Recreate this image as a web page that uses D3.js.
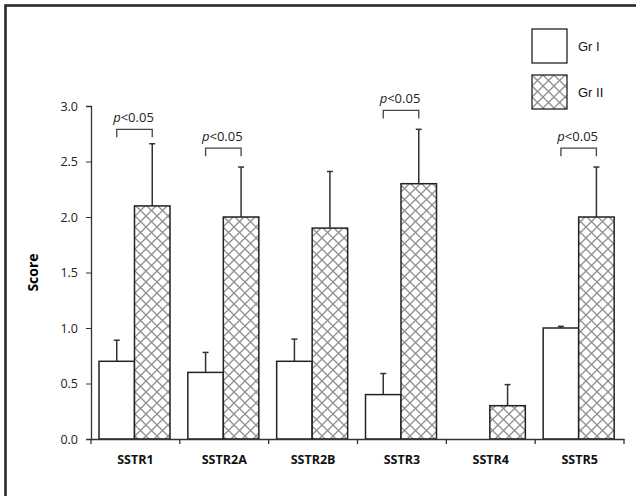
<!DOCTYPE html>
<html>
<head>
<meta charset="utf-8">
<script src="https://cdn.jsdelivr.net/npm/d3@7"></script>
<style>
  body { margin: 0; background: #fff; }
  svg { display: block; }
  .tick text { font-family: "Open Sans", "Noto Sans", sans-serif; font-size: 12.5px; fill: #222; }
</style>
</head>
<body>
<script>
var categories = ["SSTR1", "SSTR2A", "SSTR2B", "SSTR3", "SSTR4", "SSTR5"];
var groups = ["Gr I", "Gr II"];
var grI = [0.7, 0.6, 0.7, 0.4, 0, 1.0];
var grIErr = [0.19, 0.18, 0.2, 0.19, 0, 0.015];
var grII = [2.1, 2.0, 1.9, 2.3, 0.3, 2.0];
var grIIErr = [0.56, 0.45, 0.51, 0.49, 0.19, 0.45];
var yTicks = [0, 0.5, 1.0, 1.5, 2.0, 2.5, 3.0];
// significance brackets: category and height of bracket
var sigCats = ["SSTR1", "SSTR2A", "SSTR3", "SSTR5"];
var sigLevels = [2.79, 2.62, 2.96, 2.62];

var W = 636, H = 496;
var margin = {top: 106, left: 91, right: 12, bottom: 57};
var w = W - margin.left - margin.right,
    h = H - margin.top - margin.bottom;

var svg = d3.select("body").append("svg")
    .attr("width", W)
    .attr("height", H);

var P = 11;
var defs = svg.append("defs");
var pat = defs.append("pattern")
    .attr("id", "hatch")
    .attr("patternUnits", "userSpaceOnUse")
    .attr("width", P)
    .attr("height", P);
pat.append("rect").attr("width", P).attr("height", P).attr("fill", "#fff");
pat.append("path")
    .attr("d", "M0,0L" + P + "," + P + "M" + P + ",0L0," + P)
    .attr("stroke", "#8f8f8f")
    .attr("stroke-width", 1.3);

// outer frame (open on the right and bottom, as in the source)
svg.append("rect")
    .attr("x", 5.5).attr("y", 5.5)
    .attr("width", W + 20).attr("height", H + 20)
    .attr("fill", "none")
    .attr("stroke", "#2a2a2a")
    .attr("stroke-width", 2.6);

var g = svg.append("g")
    .attr("transform", "translate(" + margin.left + "," + margin.top + ")");

var x0 = d3.scaleBand().domain(categories).range([0, w]);
var x1 = d3.scaleBand().domain(groups).range([8, 79]);
var y = d3.scaleLinear().domain([0, 3]).range([h, 0]);

var rows = categories.map(function(c, i) {
  return [
    {cat: c, grp: "Gr I", v: grI[i], e: grIErr[i]},
    {cat: c, grp: "Gr II", v: grII[i], e: grIIErr[i]}
  ];
});
var flat = d3.merge(rows);

// error bars (behind bars)
var eb = g.selectAll(".err")
    .data(flat.filter(function(d) { return d.e > 0; }))
  .enter().append("g").attr("class", "err");
eb.append("line")
    .attr("x1", function(d) { return x0(d.cat) + x1(d.grp) + x1.bandwidth() / 2; })
    .attr("x2", function(d) { return x0(d.cat) + x1(d.grp) + x1.bandwidth() / 2; })
    .attr("y1", function(d) { return y(d.v); })
    .attr("y2", function(d) { return y(d.v + d.e); })
    .attr("stroke", "#333").attr("stroke-width", 1.5);
eb.append("line")
    .attr("x1", function(d) { return x0(d.cat) + x1(d.grp) + x1.bandwidth() / 2 - 3; })
    .attr("x2", function(d) { return x0(d.cat) + x1(d.grp) + x1.bandwidth() / 2 + 3; })
    .attr("y1", function(d) { return y(d.v + d.e); })
    .attr("y2", function(d) { return y(d.v + d.e); })
    .attr("stroke", "#333").attr("stroke-width", 1.5);

g.selectAll(".bar")
    .data(flat)
  .enter().append("rect")
    .attr("class", "bar")
    .attr("x", function(d) { return x0(d.cat) + x1(d.grp); })
    .attr("width", x1.bandwidth())
    .attr("y", function(d) { return y(d.v); })
    .attr("height", function(d) { return h - y(d.v); })
    .attr("fill", function(d) { return d.grp == "Gr I" ? "#fff" : "url(#hatch)"; })
    .attr("stroke", "#222")
    .attr("stroke-width", 1.5);

// axes
var yAxis = d3.axisLeft(y).tickValues(yTicks).tickFormat(d3.format(".1f")).tickSize(5).tickPadding(8);
var ya = g.append("g").call(yAxis);
ya.select(".domain").attr("stroke", "#333").attr("stroke-width", 1.3);
ya.selectAll(".tick line").attr("stroke", "#333");

var xAxis = d3.axisBottom(x0).tickSize(0).tickPadding(16);
var xa = g.append("g")
    .attr("transform", "translate(0," + h + ")")
    .call(xAxis);
xa.select(".domain").attr("stroke", "#333").attr("stroke-width", 1.3);
xa.selectAll(".tick text")
    .style("font-weight", "bold")
    .style("font-size", "12.5px")
    .style("fill", "#111");
// category separator ticks
xa.selectAll(".sep")
    .data(categories.concat(["end"]))
  .enter().append("line")
    .attr("class", "sep")
    .attr("x1", function(d) { return d == "end" ? w : x0(d); })
    .attr("x2", function(d) { return d == "end" ? w : x0(d); })
    .attr("y1", 0).attr("y2", 5)
    .attr("stroke", "#333").attr("stroke-width", 1.3);

g.append("text")
    .attr("transform", "rotate(-90)")
    .attr("x", -(y(1.5)))
    .attr("y", -53)
    .attr("text-anchor", "middle")
    .style("font-family", "'Open Sans', 'Noto Sans', sans-serif")
    .style("font-weight", "bold")
    .style("font-size", "14px")
    .text("Score");

// significance brackets
var sig = g.selectAll(".sig")
    .data(sigCats.map(function(c, i) { return {cat: c, lvl: sigLevels[i]}; }))
  .enter().append("g").attr("class", "sig");
sig.append("path")
    .attr("d", function(d) {
      var xa = x0(d.cat) + x1("Gr I") + x1.bandwidth() / 2,
          xb = x0(d.cat) + x1("Gr II") + x1.bandwidth() / 2,
          yy = y(d.lvl);
      return "M" + xa + "," + (yy + 8) + "V" + yy + "H" + xb + "V" + (yy + 8);
    })
    .attr("fill", "none")
    .attr("stroke", "#444")
    .attr("stroke-width", 1.3);
var st = sig.append("text")
    .attr("x", function(d) { return x0(d.cat) + x1("Gr II") - 1; })
    .attr("y", function(d) { return y(d.lvl) - 7; })
    .attr("text-anchor", "middle")
    .style("font-family", "'Open Sans', 'Noto Sans', sans-serif")
    .style("font-size", "13px")
    .style("fill", "#222");
st.append("tspan").style("font-style", "italic").text("p");
st.append("tspan").text("<0.05");

// legend
var leg = svg.selectAll(".leg")
    .data(groups)
  .enter().append("g")
    .attr("class", "leg")
    .attr("transform", function(d, i) { return "translate(532," + (29 + i * 46) + ")"; });
leg.append("rect")
    .attr("width", 35).attr("height", 34)
    .attr("fill", function(d, i) { return i == 0 ? "#fff" : "url(#hatch)"; })
    .attr("stroke", "#222").attr("stroke-width", 1.3);
leg.append("text")
    .attr("x", 46).attr("y", 17).attr("dy", "0.35em")
    .style("font-family", "'Liberation Sans', Arial, sans-serif")
    .style("font-size", "13px")
    .style("fill", "#111")
    .text(function(d) { return d; });
</script>
</body>
</html>
